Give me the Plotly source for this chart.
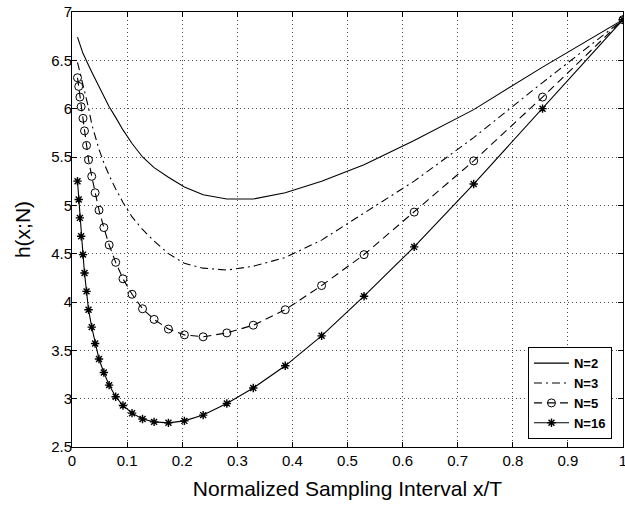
import plotly.graph_objects as go

# Normalized sampling interval x/T (shared sampling grid)
x_grid = [0.0100, 0.0122, 0.0143, 0.0166, 0.0200, 0.0227, 0.0264, 0.0300, 0.0358, 0.0420,
          0.0490, 0.0578, 0.0674, 0.0793, 0.0925, 0.109, 0.128, 0.149, 0.175, 0.204,
          0.238, 0.281, 0.329, 0.387, 0.453, 0.530, 0.621, 0.729, 0.854, 1.0]

h_N2 = [6.74, 6.70, 6.66, 6.62, 6.57, 6.54, 6.50, 6.45, 6.38, 6.31,
        6.23, 6.13, 6.02, 5.91, 5.78, 5.64, 5.50, 5.39, 5.29, 5.19,
        5.11, 5.065, 5.065, 5.13, 5.25, 5.42, 5.67, 5.99, 6.43, 6.92]

h_N3 = [6.48, 6.43, 6.38, 6.32, 6.25, 6.17, 6.09, 6.01, 5.84, 5.71,
        5.58, 5.44, 5.31, 5.17, 5.03, 4.88, 4.75, 4.63, 4.50, 4.40,
        4.35, 4.33, 4.37, 4.46, 4.64, 4.92, 5.25, 5.70, 6.27, 6.92]

h_N5 = [6.32, 6.23, 6.12, 6.02, 5.90, 5.77, 5.62, 5.47, 5.30, 5.13,
        4.95, 4.77, 4.59, 4.41, 4.24, 4.08, 3.93, 3.82, 3.72, 3.66,
        3.64, 3.68, 3.76, 3.92, 4.17, 4.49, 4.93, 5.46, 6.12, 6.92]

h_N16 = [5.25, 5.06, 4.87, 4.68, 4.49, 4.30, 4.11, 3.92, 3.74, 3.57,
         3.41, 3.27, 3.14, 3.02, 2.93, 2.85, 2.79, 2.76, 2.75, 2.77,
         2.83, 2.95, 3.11, 3.34, 3.65, 4.06, 4.57, 5.22, 6.00, 6.92]

series_names = ["N=2", "N=3", "N=5", "N=16"]

x_ticks = [0, 0.1, 0.2, 0.3, 0.4, 0.5, 0.6, 0.7, 0.8, 0.9, 1]
y_ticks = [2.5, 3, 3.5, 4, 4.5, 5, 5.5, 6, 6.5, 7]

FONT = "Liberation Sans, Arial, sans-serif"

fig = go.Figure()
fig.add_trace(go.Scatter(x=x_grid, y=h_N2, name=series_names[0], mode="lines",
                         line=dict(color="black", width=1.1)))
fig.add_trace(go.Scatter(x=x_grid, y=h_N3, name=series_names[1], mode="lines",
                         line=dict(color="black", width=1.1, dash="8px,4px,2px,4px")))
fig.add_trace(go.Scatter(x=x_grid, y=h_N5, name=series_names[2], mode="lines+markers",
                         line=dict(color="black", width=1.1, dash="8px,5px"),
                         marker=dict(symbol="circle-open", size=8, color="black",
                                     line=dict(width=1, color="black"))))
fig.add_trace(go.Scatter(x=x_grid, y=h_N16, name=series_names[3], mode="lines+markers",
                         line=dict(color="black", width=1.1),
                         marker=dict(symbol="asterisk-open", size=7, color="black",
                                     line=dict(width=1.4, color="black"))))

axis_common = dict(
    showline=True, linecolor="black", linewidth=1, mirror="ticks",
    ticks="inside", ticklen=5, tickcolor="black", tickwidth=1,
    showgrid=True, gridcolor="rgba(0,0,0,0.7)", gridwidth=1, griddash="1px,3px",
    zeroline=False, tickfont=dict(family=FONT, size=15, color="black"),
    ticklabeloverflow="allow",
)

fig.update_xaxes(range=[0, 1], tickvals=x_ticks, ticktext=[f"{t:g}" for t in x_ticks],
                 title=dict(text="Normalized Sampling Interval x/T",
                            font=dict(family=FONT, size=21, color="black"), standoff=13),
                 automargin=False, **axis_common)
fig.update_yaxes(range=[2.5, 7], tickvals=y_ticks, ticktext=[f"{t:g}" for t in y_ticks],
                 title=dict(text="h(x;N)", font=dict(family=FONT, size=21, color="black"),
                            standoff=14),
                 ticklabelstandoff=-4,
                 automargin=False, **axis_common)

fig.update_layout(
    width=625, height=506,
    margin=dict(l=72, r=2, t=12, b=59, autoexpand=False),
    plot_bgcolor="white", paper_bgcolor="white",
    font=dict(family=FONT, color="black"),
    legend=dict(x=0.98, y=0.018, xanchor="right", yanchor="bottom",
                bgcolor="white", bordercolor="black", borderwidth=1,
                font=dict(family=FONT, size=13, color="black", weight="bold"),
                tracegroupgap=0, itemwidth=35),
    showlegend=True,
)

fig.write_html("out.html", config={"displayModeBar": False},
               post_script="document.body.style.margin='0';document.body.style.padding='0';")
